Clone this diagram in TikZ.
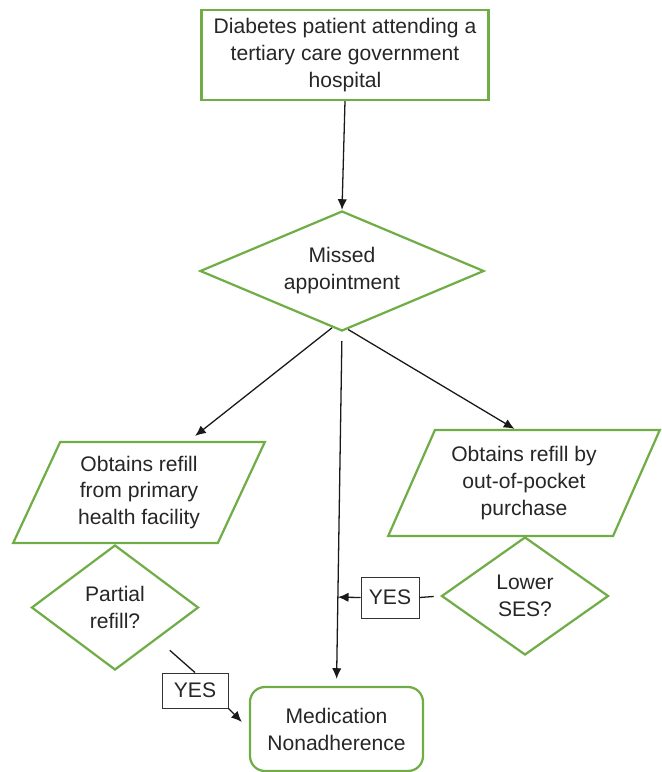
\documentclass[tikz,border=0pt]{standalone}
\usepackage{fontspec}
\setmainfont{Liberation Sans}
\usetikzlibrary{calc,shapes.geometric,arrows.meta}
\definecolor{boxgreen}{RGB}{112,173,71}

\begin{document}
\begin{tikzpicture}[x=0.03cm,y=-0.03cm,
		every node/.style={align=center,font=\fontsize{18}{23}\selectfont,text=black!85},
		greenline/.style={draw=boxgreen,line width=1.9pt},
		rbox/.style={greenline,rectangle,inner sep=0pt},
		dbox/.style={greenline,diamond,inner sep=0pt},
		pbox/.style={greenline,trapezium,trapezium stretches=true,inner sep=0pt},
		yesbox/.style={draw=black!80,line width=0.8pt,inner sep=0pt},
		link/.style={draw=black!90,line width=1.1pt},
		arr/.style={link,-{Latex[length=3.2mm,width=2.8mm]}}]
				\useasboundingbox (0,0) rectangle (662,772);
				
				\node[rbox, minimum width=8.61cm, minimum height=2.7cm] (patient) at (345,55) {Diabetes patient attending a\\tertiary care government\\hospital};
				\node[dbox, aspect=2.37, minimum width=8.52cm, minimum height=3.6cm] (missed) at (342,271) {Missed\\appointment};
				
				\node[pbox, trapezium left angle=63.7, trapezium right angle=116.3, minimum width=7.56cm, minimum height=3.03cm] (primary) at (139,492.5) {Obtains refill\\from primary\\health facility};
				\node[pbox, trapezium left angle=62.6, trapezium right angle=117.4, minimum width=8.16cm, minimum height=3.18cm] (pocket) at (524,483) {Obtains refill by\\out-of-pocket\\purchase};
				
				\node[dbox, aspect=1.34, minimum width=5.01cm, minimum height=3.75cm] (partial) at (115,607.5) {Partial\\refill?};
				\node[dbox, aspect=1.42, minimum width=5.01cm, minimum height=3.54cm] (ses) at (525,596) {Lower\\SES?};
				
				\node[greenline, rounded corners=0.45cm, minimum width=5.19cm, minimum height=2.52cm, inner sep=0pt] (nonadh) at (336.5,729) {Medication\\Nonadherence};
				
				\node[yesbox, minimum width=1.98cm, minimum height=1.05cm] (yesleft) at (195,690.5) {YES};
				\node[yesbox, minimum width=1.74cm, minimum height=1.23cm] (yesright) at (390,597.5) {YES};
				
				\draw[arr] (patient.south) -- (missed.north);
				\draw[arr, shorten >=0.24cm] (missed.-100) -- (primary.46);
				\draw[arr] (missed.-84) -- (pocket.100);
				\draw[arr, shorten <=0.27cm, shorten >=0.21cm] (missed.south) -- (nonadh.north);
				
				\draw[link, shorten <=0.5cm] (partial.south east) -- (yesleft.north);
				\draw[arr, shorten >=0.3cm] (yesleft.south east) -- (nonadh.west);
				
				\draw[link, shorten <=0.2cm] (ses.west) -- (yesright.east);
				\draw[arr] (yesright.west) -- ($(missed.south)!(yesright.west)!(nonadh.north)$);
			\end{tikzpicture}
\end{document}
